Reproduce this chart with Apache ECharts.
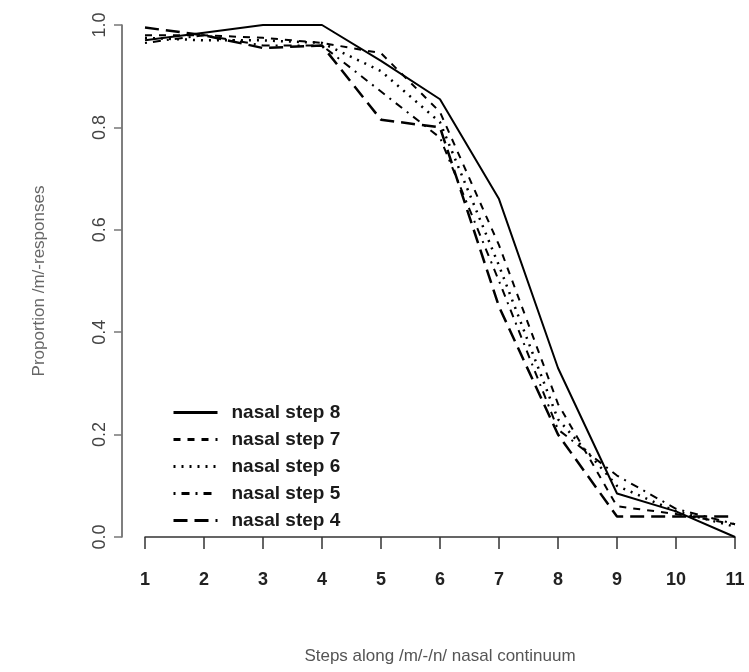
<!DOCTYPE html>
<html>
<head>
<meta charset="utf-8">
<script src="https://cdn.jsdelivr.net/npm/echarts@6/dist/echarts.min.js"></script>
<style>
html,body{margin:0;padding:0;background:#fff;}
#chart{width:749px;height:672px;}
</style>
</head>
<body>
<div id="chart"></div>
<script>
const steps = [1, 2, 3, 4, 5, 6, 7, 8, 9, 10, 11]
const nasal8 = [0.97, 0.985, 1.0, 1.0, 0.93, 0.855, 0.66, 0.33, 0.085, 0.05, 0.0]
const nasal7 = [0.98, 0.98, 0.975, 0.965, 0.945, 0.83, 0.57, 0.26, 0.06, 0.045, 0.025]
const nasal6 = [0.975, 0.97, 0.97, 0.965, 0.91, 0.81, 0.53, 0.23, 0.10, 0.05, 0.02]
const nasal5 = [0.965, 0.98, 0.96, 0.96, 0.87, 0.78, 0.50, 0.21, 0.12, 0.055, 0.025]
const nasal4 = [0.995, 0.98, 0.955, 0.96, 0.815, 0.80, 0.45, 0.20, 0.04, 0.04, 0.04]
const seriesNames = ['nasal step 8', 'nasal step 7', 'nasal step 6', 'nasal step 5', 'nasal step 4']
const yTicks = ['0.0', '0.2', '0.4', '0.6', '0.8', '1.0']

const chart = echarts.init(document.getElementById('chart'))

// dash patterns roughly like R's lty 1..5
const styles = [
  {type: 'solid', width: 2},
  {type: [7, 7], width: 2},
  {type: [2, 6], width: 2.5},
  {type: [2, 6, 8, 6], width: 2},
  {type: [14, 7], width: 2.5}
]
const values = [nasal8, nasal7, nasal6, nasal5, nasal4]

const series = seriesNames.map((name, i) => ({
  name: name,
  type: 'line',
  data: steps.map((s, j) => [s, values[i][j]]),
  symbol: 'none',
  silent: true,
  color: '#000',
  lineStyle: Object.assign({color: '#000'}, styles[i])
}))

chart.setOption({
  animation: false,
  backgroundColor: '#fff',
  grid: {left: 145, right: 14, top: 25, bottom: 135},
  legend: {
    orient: 'vertical',
    left: 167,
    top: 398,
    itemWidth: 44,
    itemHeight: 14,
    itemGap: 8,
    selectedMode: false,
    data: seriesNames,
    itemStyle: {opacity: 0},
    lineStyle: {width: 3},
    textStyle: {fontFamily: 'Liberation Sans', fontSize: 19, fontWeight: 'bold', color: '#1a1a1a', padding: [0, 0, 0, 9]}
  },
  xAxis: {
    type: 'value',
    min: 1,
    max: 11,
    interval: 1,
    offset: 18,
    splitLine: {show: false},
    axisLine: {show: true, lineStyle: {color: '#333', width: 1.5}},
    axisTick: {show: true, length: 12, lineStyle: {color: '#333', width: 1.5}},
    axisLabel: {margin: 16, fontFamily: 'Liberation Sans', fontSize: 18, fontWeight: 'bold', color: '#222'},
    name: 'Steps along /m/-/n/ nasal continuum',
    nameLocation: 'middle',
    nameGap: 93,
    nameTextStyle: {fontFamily: 'Liberation Sans', fontSize: 17, color: '#555'}
  },
  yAxis: {
    type: 'value',
    min: 0,
    max: 1,
    interval: 0.2,
    offset: 23,
    splitLine: {show: false},
    axisLine: {show: true, lineStyle: {color: '#555', width: 1.5}},
    axisTick: {show: true, length: 8, lineStyle: {color: '#777', width: 1.5}},
    axisLabel: {
      rotate: 90,
      margin: 13,
      fontFamily: 'Liberation Sans',
      fontSize: 18,
      color: '#444',
      formatter: v => yTicks[Math.round(v * 5)]
    },
    name: 'Proportion /m/-responses',
    nameLocation: 'middle',
    nameRotate: 90,
    nameGap: 74,
    nameTextStyle: {fontFamily: 'Liberation Sans', fontSize: 17, color: '#666'}
  },
  series: series
})
</script>
</body>
</html>
